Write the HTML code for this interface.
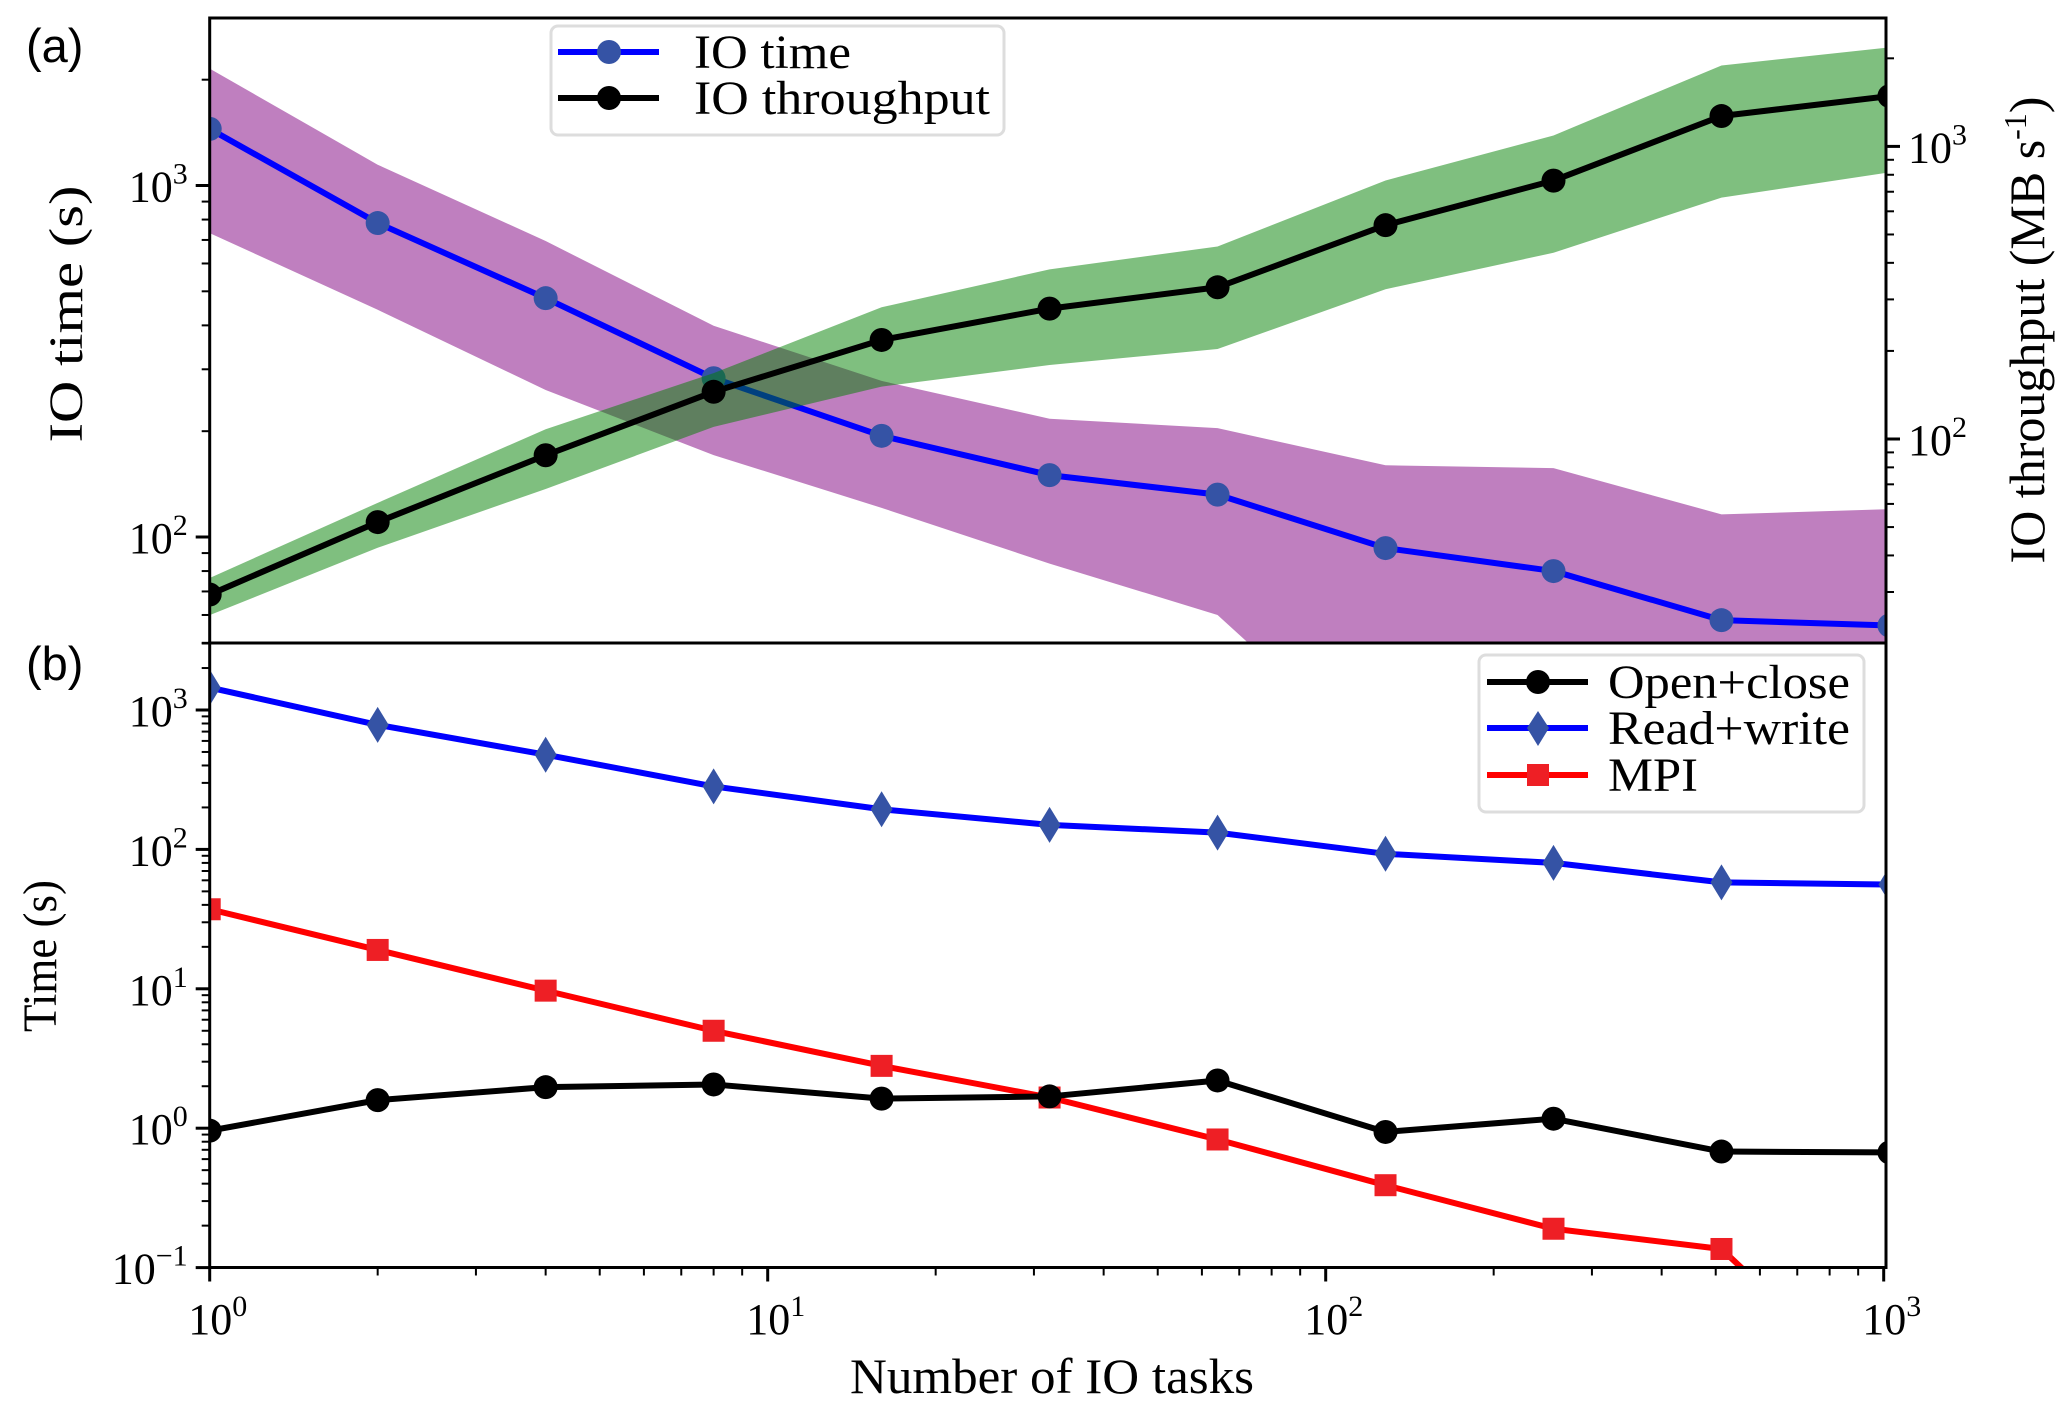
<!DOCTYPE html>
<html><head><meta charset="utf-8">
<style>
html,body{margin:0;padding:0;background:#fff;width:2067px;height:1412px;overflow:hidden;}
svg{display:block;overflow:hidden;}
text{font-family:"Liberation Serif",serif;fill:#000;}
</style></head>
<body>
<svg id="chart" width="2067" height="1412" viewBox="0 0 2067 1412" xmlns="http://www.w3.org/2000/svg">
<defs>
<clipPath id="clipA"><rect x="209.7" y="18" width="1676.3" height="625"/></clipPath>
<clipPath id="clipB"><rect x="209.7" y="643" width="1676.3" height="625"/></clipPath>
</defs>
<g id="layerA" clip-path="url(#clipA)"></g>
<g id="layerB" clip-path="url(#clipB)"></g>
<g id="axes"></g>
<text x="26" y="62" style="font-family:'Liberation Sans',sans-serif;font-size:47px">(a)</text>
<text x="26" y="680" style="font-family:'Liberation Sans',sans-serif;font-size:47px">(b)</text>
<text transform="translate(82,314) rotate(-90)" text-anchor="middle" textLength="257" lengthAdjust="spacingAndGlyphs" style="font-size:48px">IO time (s)</text>
<text transform="translate(56,956) rotate(-90)" text-anchor="middle" textLength="152" lengthAdjust="spacingAndGlyphs" style="font-size:48px">Time (s)</text>
<text transform="translate(2044,330) rotate(-90)" text-anchor="middle" style="font-size:50px">IO throughput (MB s<tspan dy="-18" font-size="32">-1</tspan><tspan dy="18">)</tspan></text>
<text x="1052" y="1393" text-anchor="middle" textLength="404" lengthAdjust="spacingAndGlyphs" style="font-size:50px">Number of IO tasks</text>

<g>
<rect x="551" y="26" width="453" height="109" rx="7" fill="#fff" stroke="#ddd" stroke-width="3"/>
<g>
<line x1="558" y1="52" x2="659" y2="52" stroke="#0000ff" stroke-width="6"/>
<circle cx="609" cy="52" r="12" fill="#3553a5"/>
<text x="694" y="68" textLength="157" lengthAdjust="spacingAndGlyphs" style="font-size:48px">IO time</text></g>
<g>
<line x1="558" y1="98" x2="659" y2="98" stroke="#000" stroke-width="6"/>
<circle cx="609" cy="98" r="12" fill="#000"/>
<text x="694" y="114" textLength="296" lengthAdjust="spacingAndGlyphs" style="font-size:48px">IO throughput</text></g>
</g>
<g>
<rect x="1479" y="655" width="385" height="157" rx="7" fill="#fff" stroke="#ddd" stroke-width="3"/>
<g>
<line x1="1487" y1="682" x2="1588" y2="682" stroke="#000" stroke-width="6"/>
<circle cx="1538" cy="682" r="12" fill="#000"/>
<text x="1608" y="698" textLength="242" lengthAdjust="spacingAndGlyphs" style="font-size:48px">Open+close</text></g>
<g>
<line x1="1487" y1="728" x2="1588" y2="728" stroke="#0000ff" stroke-width="6"/>
<polygon points="1538,711 1549,728 1538,746 1527,728" fill="#3553a5"/>
<text x="1608" y="744" textLength="242" lengthAdjust="spacingAndGlyphs" style="font-size:48px">Read+write</text></g>
<g>
<line x1="1487" y1="775" x2="1588" y2="775" stroke="#ff0000" stroke-width="6"/>
<rect x="1527" y="764" width="22" height="22" fill="#ee1f25"/>
<text x="1608" y="791" textLength="90" lengthAdjust="spacingAndGlyphs" style="font-size:48px">MPI</text></g>
</g>
</svg>
<script>
const tasks = [1,2,4,8,16,32,64,128,256,512,1024];
const ioTime = [1449,782,478,283,194,150,132,93,80,58,56];
const ioTimeUpper = [2150,1146,695,399,278,217,204,160,157,116,120];
const ioTimeLower = [732,443,262,171,121,84,60,22,20,16,15];
const throughput = [29.4,52,88,145,218,279,330,538,764,1270,1486];
const throughputUpper = [33.5,60.5,108,168,282,380,455,765,1090,1890,2180];
const throughputLower = [25,42.5,67.5,110,151,179,203,325,433,668,815];
const openClose = [0.96,1.59,1.97,2.06,1.63,1.69,2.2,0.94,1.17,0.68,0.67];
const readWrite = [1449,782,478,283,194,150,132,93,80,58,56];
const mpiTasks = [1,2,4,8,16,32,64,128,256,512,1024];
const mpi = [37.2,19.0,9.7,5.0,2.8,1.66,0.83,0.39,0.19,0.136,0.01];
const xTickLabels = ["0","1","2","3"];
const yATickLabels = ["2","3"];
const yRTickLabels = ["2","3"];
const yBTickLabels = ["\u22121","0","1","2","3"];

const NS="http://www.w3.org/2000/svg";
const L=209.7,R=1886,TA=18,MID=643,BB=1267.5;
const xs=v=>L+558*Math.log10(v);
const yA=v=>185.5-351.5*(Math.log10(v)-3);
const yRt=v=>146.4-292.6*(Math.log10(v)-3);
const yB=v=>710-139.4*(Math.log10(v)-3);
function mk(tag,attrs,parent){const e=document.createElementNS(NS,tag);for(const k in attrs)e.setAttribute(k,attrs[k]);parent.appendChild(e);return e;}
const gA=document.getElementById('layerA'),gB=document.getElementById('layerB'),ax=document.getElementById('axes');
function band(x,lo,hi,fy,fill,name,parent){let d='';x.forEach((v,i)=>{d+=(i?'L':'M')+xs(v)+','+fy(hi[i]);});for(let i=x.length-1;i>=0;i--)d+='L'+xs(x[i])+','+fy(lo[i]);d+='Z';const p=mk('path',{d:d,fill:fill},parent);

}
function line(x,y,fy,color,name,parent){const pts=x.map((v,i)=>xs(v)+','+fy(y[i])).join(' ');const p=mk('polyline',{points:pts,fill:'none',stroke:color,'stroke-width':6,'stroke-linejoin':'round'},parent);

}
function markers(x,y,fy,shape,color,name,parent){x.forEach((v,i)=>{const cx=xs(v),cy=fy(y[i]);let e;
if(shape==='c')e=mk('circle',{cx:cx,cy:cy,r:12,fill:color},parent);
else if(shape==='d')e=mk('polygon',{points:`${cx},${cy-18} ${cx+11},${cy} ${cx},${cy+18} ${cx-11},${cy}`,fill:color},parent);
else e=mk('rect',{x:cx-11,y:cy-11,width:22,height:22,fill:color},parent);

});}
band(tasks,ioTimeLower,ioTimeUpper,yA,'#bf7fbf','io-time-band',gA);
line(tasks,ioTime,yA,'#0000ff','io-time-line',gA);
markers(tasks,ioTime,yA,'c','#3553a5','io-time-point',gA);
band(tasks,throughputLower,throughputUpper,yRt,'rgba(0,128,0,0.5)','throughput-band',gA);
line(tasks,throughput,yRt,'#000','throughput-line',gA);
markers(tasks,throughput,yRt,'c','#000','throughput-point',gA);
line(tasks,readWrite,yB,'#0000ff','read-write-line',gB);
markers(tasks,readWrite,yB,'d','#3553a5','read-write-point',gB);
line(mpiTasks,mpi,yB,'#ff0000','mpi-line',gB);
markers(mpiTasks.slice(0,10),mpi.slice(0,10),yB,'s','#ee1f25','mpi-point',gB);
line(tasks,openClose,yB,'#000','open-close-line',gB);
markers(tasks,openClose,yB,'c','#000','open-close-point',gB);
[[TA,MID],[MID,BB]].forEach(([t,b],i)=>{const r=mk('rect',{x:L,y:t,width:R-L,height:b-t,fill:'none',stroke:'#000','stroke-width':3},ax);

});
function tick(x1,y1,x2,y2,w){mk('line',{x1:x1,y1:y1,x2:x2,y2:y2,stroke:'#000','stroke-width':w},ax);}
function lbl(x,y,exp,anchor,name){const t=mk('text',{x:x,y:y,'text-anchor':anchor,style:'font-size:44px'},ax);t.textContent='10';const s=mk('tspan',{dy:-18,style:'font-size:30px'},t);s.textContent=exp;

}
for(let d=0;d<=3;d++){for(let m=1;m<10;m++){const v=m*Math.pow(10,d);const x=xs(v);if(x>R+1)continue;tick(x,BB,x,BB+(m===1?14:8),m===1?3:2);}}
xTickLabels.forEach((e,i)=>lbl(xs(Math.pow(10,i))+8,1334,e,'middle','x-tick-label'));
for(let d=1;d<=3;d++){for(let m=1;m<10;m++){const v=m*Math.pow(10,d);const y=yA(v);if(y<TA||y>MID)continue;tick(L,y,L-(m===1?14:8),y,m===1?3:2);}}
yATickLabels.forEach((e,i)=>lbl(L-22,yA(Math.pow(10,i+2))+16,e,'end','y-tick-label-a'));
for(let d=1;d<=3;d++){for(let m=1;m<10;m++){const v=m*Math.pow(10,d);const y=yRt(v);if(y<TA||y>MID)continue;tick(R,y,R+(m===1?14:8),y,m===1?3:2);}}
yRTickLabels.forEach((e,i)=>lbl(R+22,yRt(Math.pow(10,i+2))+16,e,'start','y-tick-label-right'));
for(let d=-1;d<=3;d++){for(let m=1;m<10;m++){const v=m*Math.pow(10,d);const y=yB(v);if(y<MID||y>BB+1)continue;tick(L,y,L-(m===1?14:8),y,m===1?3:2);}}
yBTickLabels.forEach((e,i)=>lbl(L-22,yB(Math.pow(10,i-1))+16,e,'end','y-tick-label-b'));
</script>
</body></html>
